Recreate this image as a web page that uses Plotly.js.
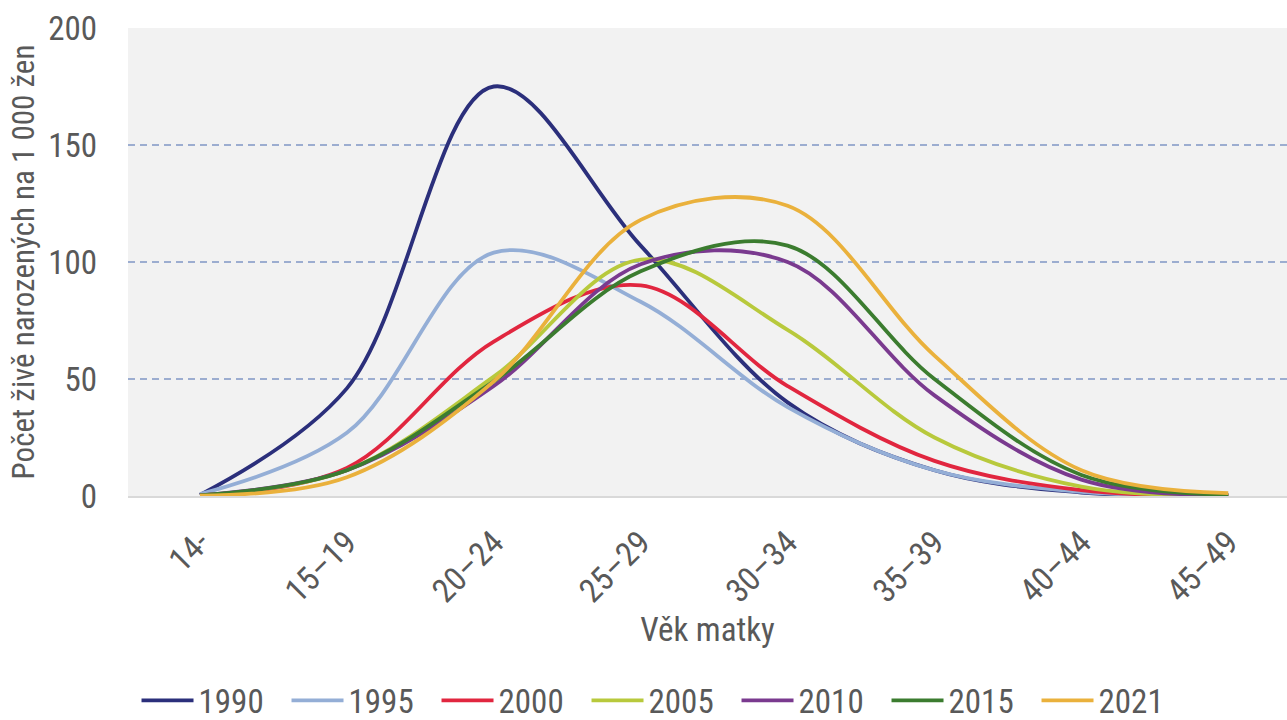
<!DOCTYPE html>
<html>
<head>
<meta charset="utf-8">
<script src="https://cdn.plot.ly/plotly-3.0.1.min.js"></script>
<style>html,body{margin:0;padding:0;background:#fff;}#chart{width:1287px;height:720px;}</style>
</head>
<body>
<div id="chart"></div>
<script>
const ageGroups = ['14-', '15–19', '20–24', '25–29', '30–34', '35–39', '40–44', '45–49'];
const years = ['1990', '1995', '2000', '2005', '2010', '2015', '2021'];
const rates1990 = [0.5, 46, 175, 107, 40, 11, 1.5, 0.1];
const rates1995 = [0.8, 27, 104, 83, 38, 11, 1.8, 0.1];
const rates2000 = [0.3, 12, 66, 90, 47, 15, 2.5, 0.1];
const rates2005 = [0.3, 11, 51, 101, 71, 25, 4, 0.2];
const rates2010 = [0.3, 11, 47, 99, 100, 43, 7, 0.3];
const rates2015 = [0.3, 11, 49, 96, 107, 50, 9, 0.5];
const rates2021 = [0.2, 8, 49, 118, 124, 60, 11, 1.2];
const seriesValues = [rates1990, rates1995, rates2000, rates2005, rates2010, rates2015, rates2021];
const colors = ['#2b2f7b', '#94aed6', '#e1263f', '#b8c93c', '#7a3a8f', '#3b7c2f', '#eab13c'];

const FONT = '"Liberation Sans Narrow", "Arial Narrow", "Roboto Condensed", Arial, sans-serif';
const TXT = '#595959';

const traces = years.map((y, i) => ({
  type: 'scatter',
  mode: 'lines',
  name: y,
  x: ageGroups,
  y: seriesValues[i],
  line: {color: colors[i], width: 3.8, shape: 'spline', smoothing: 1},
  hoverinfo: 'x+y+name'
}));

const layout = {
  width: 1287,
  height: 720,
  margin: {l: 128, r: 0, t: 28, b: 224},
  paper_bgcolor: '#ffffff',
  plot_bgcolor: '#f2f2f2',
  font: {family: FONT, color: TXT, size: 33},
  showlegend: true,
  legend: {
    orientation: 'h',
    xref: 'container', yref: 'container',
    x: 0.514, xanchor: 'center',
    y: 0.066, yanchor: 'top',
    itemwidth: 52,
    entrywidth: 83, entrywidthmode: 'pixels',
    font: {family: FONT, color: TXT, size: 33},
    bgcolor: 'rgba(0,0,0,0)'
  },
  xaxis: {
    type: 'category',
    range: [-0.49, 7.4],
    tickangle: -45,
    ticks: '',
    ticklabelstandoff: 12,
    showgrid: false,
    zeroline: false,
    showline: true,
    linecolor: '#d9d9d9',
    linewidth: 2,
    tickfont: {family: FONT, color: TXT, size: 33},
    title: {text: 'Věk matky', font: {family: FONT, color: TXT, size: 33}, standoff: 7},
    automargin: true,
    fixedrange: true
  },
  yaxis: {
    range: [0, 200],
    tickvals: [0, 50, 100, 150, 200],
    ticks: '',
    ticklabelstandoff: 30,
    showgrid: true,
    gridcolor: '#9cadd0',
    gridwidth: 1.2,
    griddash: '7px,5px',
    zeroline: false,
    showline: false,
    tickfont: {family: FONT, color: TXT, size: 33},
    title: {text: 'Počet živě narozených na 1 000 žen', font: {family: FONT, color: TXT, size: 31}, standoff: 4},
    automargin: false,
    fixedrange: true
  }
};

Plotly.newPlot('chart', traces, layout, {displayModeBar: false, staticPlot: true});
</script>
</body>
</html>
